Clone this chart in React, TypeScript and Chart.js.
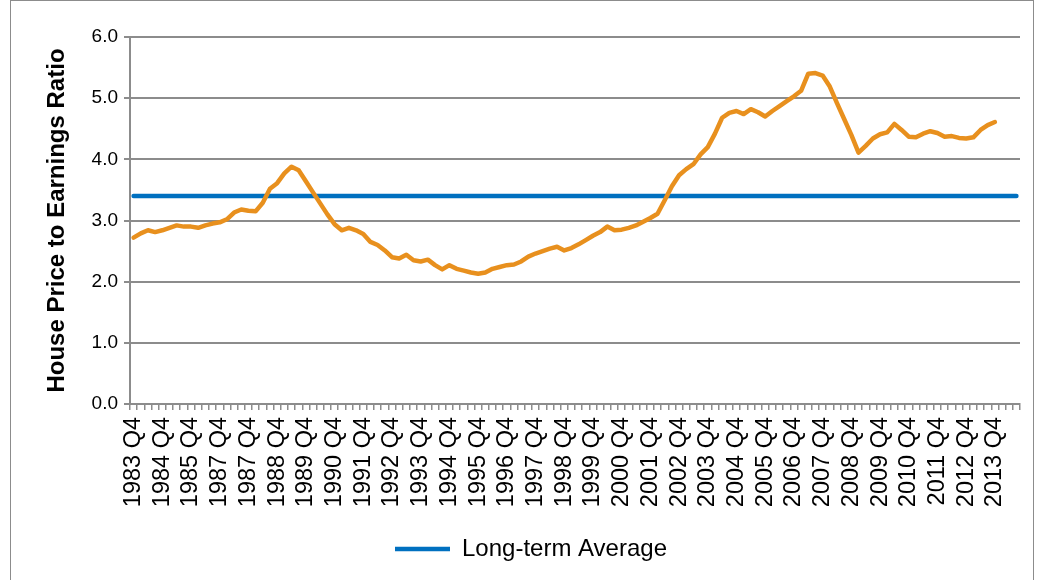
import React, { useEffect, useRef } from "react";
import { Chart, registerables } from "chart.js";

Chart.register(...registerables);

// House price to earnings ratio, quarterly from 1983 Q4
const ratio1983to1989 = [
  2.72, 2.79, 2.84, 2.81, 2.84, 2.88, 2.92, 2.9, 2.9, 2.88, 2.92, 2.95, 2.97,
  3.02, 3.13, 3.18, 3.16, 3.15, 3.29, 3.52, 3.61, 3.77, 3.88, 3.82, 3.64,
];
const ratio1990s = [
  3.46, 3.28, 3.1, 2.94, 2.84, 2.88, 2.84, 2.78, 2.65, 2.6, 2.51, 2.4, 2.38,
  2.44, 2.35, 2.33, 2.36, 2.27, 2.2, 2.27, 2.21, 2.18, 2.15, 2.13, 2.15, 2.21,
  2.24, 2.27, 2.28, 2.33, 2.41, 2.46, 2.5, 2.54, 2.57, 2.51, 2.55, 2.61, 2.68,
  2.75,
];
const ratio2000s = [
  2.81, 2.9, 2.84, 2.85, 2.88, 2.92, 2.98, 3.04, 3.11, 3.33, 3.56, 3.74, 3.84,
  3.92, 4.08, 4.2, 4.42, 4.68, 4.76, 4.79, 4.74, 4.82, 4.77, 4.7, 4.79, 4.87,
  4.95, 5.03, 5.12, 5.4, 5.41, 5.37, 5.19, 4.92, 4.66, 4.4, 4.11, 4.22, 4.34,
  4.41,
];
const ratio2010s = [
  4.44, 4.58, 4.48, 4.37, 4.36, 4.42, 4.46, 4.43, 4.37, 4.38, 4.35, 4.34, 4.36,
  4.48, 4.56, 4.61,
];
const longTermAverage = 3.4;

// Tick labels shown every fourth quarter (as printed on the original)
const tickLabels = [
  "1983 Q4", "1984 Q4", "1985 Q4", "1987 Q4", "1987 Q4", "1988 Q4", "1989 Q4",
  "1990 Q4", "1991 Q4", "1992 Q4", "1993 Q4", "1994 Q4", "1995 Q4", "1996 Q4",
  "1997 Q4", "1998 Q4", "1999 Q4", "2000 Q4", "2001 Q4", "2002 Q4", "2003 Q4",
  "2004 Q4", "2005 Q4", "2006 Q4", "2007 Q4", "2008 Q4", "2009 Q4", "2010 Q4",
  "2011 Q4", "2012 Q4", "2013 Q4",
];
const firstYear = 1983;
const quarterCount = 124; // 1983 Q4 .. 2014 Q3
const yMin = 0;
const yMax = 6;
const yStep = 1;

const seriesLabel = "House Price to Earnings Ratio";
const averageLabel = "Long-term Average";

const FONT = "'Liberation Sans', Arial, Helvetica, sans-serif";
const GRID = "#8c8c8c";

export default function App() {
  const canvasRef = useRef<HTMLCanvasElement | null>(null);

  useEffect(() => {
    if (!canvasRef.current) return;
    const categories: string[] = [];
    for (let k = 0; k < quarterCount; k++) {
      const year = firstYear + Math.floor((k + 3) / 4);
      const q = ((k + 3) % 4) + 1;
      categories.push(`${year} Q${q}`);
    }
    const ratio = [...ratio1983to1989, ...ratio1990s, ...ratio2000s, ...ratio2010s];
    const average = categories.map(() => longTermAverage);

    const chart = new Chart(canvasRef.current, {
      type: "line",
      data: {
        labels: categories,
        datasets: [
          {
            label: seriesLabel,
            data: ratio,
            borderColor: "#E8901E",
            backgroundColor: "#E8901E",
            borderWidth: 4.5,
            pointRadius: 0,
            tension: 0,
            borderJoinStyle: "round",
            borderCapStyle: "round",
            order: 1,
          },
          {
            label: averageLabel,
            data: average,
            borderColor: "#0070C0",
            backgroundColor: "#0070C0",
            borderWidth: 4.5,
            pointRadius: 0,
            tension: 0,
            borderCapStyle: "round",
            pointStyle: "line",
            order: 2,
          },
        ],
      },
      options: {
        responsive: false,
        animation: false,
        devicePixelRatio: 1,
        layout: {
          autoPadding: false,
          padding: { left: 42, right: 21, top: 37, bottom: 9 },
        },
        plugins: {
          legend: {
            position: "bottom",
            labels: {
              filter: (item) => item.datasetIndex === 1,
              usePointStyle: true,
              pointStyle: "line",
              pointStyleWidth: 55,
              color: "#000",
              padding: 10,
              font: { family: FONT, size: 24 },
            },
          },
          tooltip: { enabled: false },
        },
        scales: {
          x: {
            type: "category",
            offset: true,
            grid: {
              display: true,
              drawOnChartArea: false,
              drawTicks: true,
              tickLength: 6,
              offset: true,
              color: GRID,
              lineWidth: 1.5,
            },
            border: { display: true, color: GRID, width: 2 },
            ticks: {
              autoSkip: false,
              maxRotation: 90,
              minRotation: 90,
              padding: 7,
              color: "#000",
              font: { family: FONT, size: 23.5 },
              callback: (_v, index) =>
                index % 4 === 0 ? tickLabels[index / 4] ?? "" : "",
            },
            afterFit: (s) => {
              s.height = 123;
              s.paddingLeft = 0;
              s.paddingRight = 0;
            },
          },
          y: {
            min: yMin,
            max: yMax,
            grid: { color: GRID, lineWidth: 2, tickLength: 6 },
            border: { display: true, color: GRID, width: 2 },
            ticks: {
              stepSize: yStep,
              padding: 6,
              color: "#000",
              font: { family: FONT, size: 19 },
              callback: (v) => Number(v).toFixed(1),
            },
            title: {
              display: true,
              text: seriesLabel,
              color: "#000",
              font: { family: FONT, size: 24, weight: "bold" },
              padding: { top: 1, bottom: 0 },
            },
            afterFit: (s) => {
              s.width = 88;
            },
          },
        },
      },
    });
    return () => chart.destroy();
  }, []);

  return (
    <div
      style={{
        position: "absolute",
        left: 0,
        top: 0,
        width: 1041,
        height: 580,
        background: "#fff",
      }}
    >
      <div
        style={{
          position: "absolute",
          left: 10,
          top: 0,
          width: 1024,
          height: 590,
          border: "1px solid #8c8c8c",
          boxSizing: "border-box",
        }}
      />
      <canvas
        ref={canvasRef}
        width={1041}
        height={580}
        style={{ position: "absolute", left: 0, top: 0 }}
      />
    </div>
  );
}
